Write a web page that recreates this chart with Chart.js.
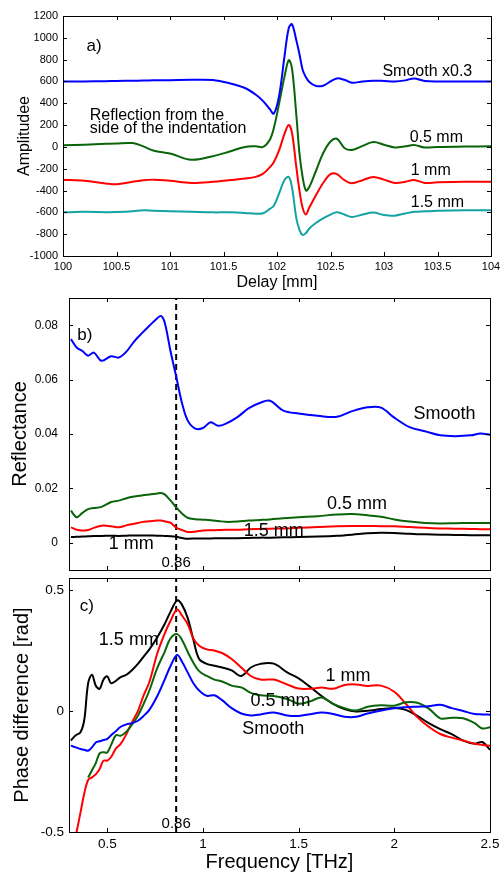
<!DOCTYPE html>
<html>
<head>
<meta charset="utf-8">
<script src="https://cdn.jsdelivr.net/npm/chart.js@4.4.1/dist/chart.umd.min.js"></script>
<style>
  body { margin: 0; background: #fff; }
  #wrap { position: relative; width: 500px; height: 876px; }
  canvas { position: absolute; left: 0; }
</style>
</head>
<body>
<div id="wrap">
  <canvas id="chartA" width="500" height="292" style="top:0"></canvas>
  <canvas id="chartB" width="500" height="280" style="top:292px"></canvas>
  <canvas id="chartC" width="500" height="304" style="top:572px"></canvas>
</div>
<script>
// a) time-domain pulses
const delay = [100, 100.2, 100.4, 100.5, 100.65, 100.75, 100.85, 101, 101.2, 101.4, 101.55, 101.7, 101.8, 101.87, 101.93, 101.97,
  102.02, 102.07, 102.11, 102.14, 102.18, 102.21, 102.24, 102.27, 102.3, 102.36, 102.43, 102.5, 102.56, 102.63, 102.7,
  102.8, 102.9, 103.0, 103.1, 103.2, 103.28, 103.38, 103.5, 103.75, 104];
const ampSmooth = [600, 600, 603, 605, 607, 608, 610, 612, 615, 613, 585, 540, 480, 420, 350, 305,
  470, 830, 1090, 1125, 980, 850, 705, 640, 598, 560, 560, 600, 628, 615, 588,
  600, 607, 605, 600, 610, 628, 605, 600, 600, 600];
const amp05 = [15, 20, 28, 32, 35, 5, -35, -60, -118, -85, -45, 0, 5, 0, 60, 170,
  400, 644, 795, 720, 300, -60, -280, -400, -370, -230, -60, 50, 75, -10, -28,
  10, 45, 20, -5, 5, 18, -5, 0, 3, 5];
const amp10 = [-300, -310, -335, -343, -320, -305, -300, -310, -330, -320, -305, -290, -275, -245, -190, -140,
  -30, 120, 200, 130, -180, -400, -560, -620, -560, -450, -333, -250, -250, -305, -333,
  -305, -275, -300, -330, -320, -303, -330, -325, -320, -320];
const amp15 = [-600, -595, -598, -597, -590, -580, -585, -590, -595, -600, -600, -605, -612, -608, -570, -540,
  -425, -303, -275, -370, -650, -760, -807, -790, -750, -700, -655, -620, -600, -620, -642,
  -620, -602, -625, -630, -610, -595, -590, -585, -580, -580];
const delayTicks = [100, 100.5, 101, 101.5, 102, 102.5, 103, 103.5, 104];
const ampTicks = [-1000, -800, -600, -400, -200, 0, 200, 400, 600, 800, 1000, 1200];

// b) reflectance
const freqB = [0.31, 0.34, 0.37, 0.4, 0.43, 0.47, 0.52, 0.56, 0.6, 0.64, 0.68, 0.72, 0.76, 0.78, 0.8, 0.83, 0.86, 0.89,
  0.92, 0.96, 1.0, 1.04, 1.08, 1.12, 1.18, 1.24, 1.3, 1.35, 1.42, 1.5, 1.6, 1.7, 1.78, 1.86, 1.93, 2.0, 2.08,
  2.16, 2.24, 2.32, 2.4, 2.45, 2.5];
const reflSmooth = [0.0749, 0.0718, 0.0705, 0.0688, 0.0699, 0.0669, 0.0686, 0.0681, 0.0703, 0.0740, 0.0770, 0.0798,
  0.0825, 0.0834, 0.0810, 0.0706, 0.0612, 0.0515, 0.0450, 0.0420, 0.0422, 0.0443, 0.0430, 0.0438, 0.0462,
  0.0495, 0.0515, 0.0522, 0.0486, 0.0475, 0.0467, 0.0463, 0.0484, 0.0498, 0.0497, 0.0460, 0.0425, 0.0410,
  0.0395, 0.0392, 0.0395, 0.0402, 0.0397];
const refl05 = [0.0118, 0.0094, 0.0110, 0.0124, 0.0128, 0.0132, 0.0150, 0.0155, 0.0164, 0.0170, 0.0174, 0.0178,
  0.0181, 0.0183, 0.0178, 0.0156, 0.0130, 0.0108, 0.0092, 0.0087, 0.0085, 0.0083, 0.0080, 0.0077, 0.0078,
  0.0082, 0.0084, 0.0086, 0.0090, 0.0094, 0.0098, 0.0104, 0.0106, 0.0101, 0.0096, 0.0086, 0.0078, 0.0073,
  0.0071, 0.0072, 0.0073, 0.0073, 0.0073];
const refl10 = [0.0057, 0.0048, 0.0045, 0.0047, 0.0055, 0.0063, 0.0061, 0.0057, 0.0064, 0.0070, 0.0076, 0.0079,
  0.0082, 0.0082, 0.0079, 0.0074, 0.0056, 0.0047, 0.0040, 0.0041, 0.0045, 0.0046, 0.0047, 0.0048, 0.0048,
  0.0050, 0.0051, 0.0052, 0.0053, 0.0055, 0.0058, 0.0061, 0.0062, 0.0062, 0.0061, 0.0061, 0.0058, 0.0055,
  0.0053, 0.0052, 0.0051, 0.0050, 0.0050];
const refl15 = [0.0021, 0.0022, 0.0023, 0.0024, 0.0025, 0.0025, 0.0026, 0.0025, 0.0026, 0.0027, 0.0027, 0.0027,
  0.0026, 0.0026, 0.0025, 0.0024, 0.0022, 0.0018, 0.0015, 0.0016, 0.0016, 0.0016, 0.0017, 0.0017, 0.0017,
  0.0018, 0.0019, 0.0019, 0.0020, 0.0021, 0.0023, 0.0026, 0.0030, 0.0035, 0.0037, 0.0036, 0.0033, 0.0031,
  0.0030, 0.0029, 0.0028, 0.0028, 0.0028];
const reflTicks = [0, 0.02, 0.04, 0.06, 0.08];

// c) phase difference
const freqC = [0.31, 0.335, 0.36, 0.38, 0.4, 0.42, 0.44, 0.46, 0.48, 0.5, 0.52, 0.545, 0.57, 0.6, 0.63, 0.66, 0.69,
  0.72, 0.76, 0.8, 0.83, 0.865, 0.89, 0.92, 0.95, 0.98, 1.02, 1.06, 1.1, 1.15, 1.2, 1.25, 1.3, 1.37, 1.44, 1.5,
  1.56, 1.62, 1.68, 1.74, 1.8, 1.86, 1.93, 2.0, 2.06, 2.12, 2.18, 2.24, 2.3, 2.36, 2.42, 2.46, 2.5];
const phaseSmooth = [-0.143, -0.150, -0.157, -0.160, -0.164, -0.150, -0.130, -0.125, -0.120, -0.115, -0.100, -0.083,
  -0.065, -0.055, -0.050, -0.040, -0.020, 0.005, 0.060, 0.130, 0.185, 0.232, 0.205, 0.160, 0.115, 0.085, 0.063,
  0.065, 0.045, 0.012, -0.010, -0.018, -0.014, -0.006, -0.018, -0.020, -0.013, -0.006, -0.012, -0.024, -0.024,
  -0.010, 0.002, 0.012, 0.016, 0.018, 0.020, 0.026, 0.012, 0.000, -0.012, -0.014, -0.015];
const phase05 = [null, null, null, null, -0.275, -0.245, -0.215, -0.175, -0.170, -0.171, -0.140, -0.100,
  -0.102, -0.085, -0.055, -0.020, 0.030, 0.085, 0.175, 0.245, 0.300, 0.318, 0.295, 0.245, 0.200, 0.165, 0.145,
  0.130, 0.122, 0.105, 0.098, 0.075, 0.065, 0.062, 0.050, 0.030, 0.040, 0.056, 0.030, 0.012, 0.002, 0.018,
  0.024, 0.022, 0.036, 0.034, 0.010, -0.030, -0.028, -0.030, -0.050, -0.072, -0.067];
const phase10 = [-0.63, -0.52, -0.42, -0.34, -0.285, -0.274, -0.262, -0.240, -0.205, -0.205, -0.190, -0.155,
  -0.136, -0.095, -0.045, 0.000, 0.065, 0.120, 0.235, 0.320, 0.372, 0.420, 0.395, 0.360, 0.300, 0.270, 0.255,
  0.250, 0.240, 0.215, 0.180, 0.145, 0.130, 0.130, 0.110, 0.093, 0.092, 0.097, 0.092, 0.108, 0.110, 0.104,
  0.105, 0.080, 0.030, -0.025, -0.065, -0.095, -0.110, -0.122, -0.135, -0.140, -0.143];
const phase15 = [-0.122, -0.100, -0.088, -0.035, 0.115, 0.150, 0.105, 0.092, 0.130, 0.143, 0.115, 0.125, 0.140,
  0.150, 0.170, 0.195, 0.225, 0.255, 0.303, 0.360, 0.410, 0.457, 0.440, 0.385, 0.295, 0.215, 0.195, 0.187,
  0.180, 0.168, 0.145, 0.180, 0.195, 0.196, 0.160, 0.135, 0.100, 0.062, 0.030, 0.008, -0.002, 0.001, 0.008,
  0.013, 0.005, -0.020, -0.050, -0.075, -0.095, -0.122, -0.135, -0.128, -0.160];
const phaseTicks = [-0.5, 0, 0.5];
const freqTicks = [0.5, 1, 1.5, 2, 2.5];
const markFreq = 0.86;

const FONT = "'Liberation Sans', Arial, sans-serif";
Chart.defaults.font.family = FONT;
Chart.defaults.color = '#000';

function series(xs, ys, color) {
  return {
    data: xs.map((x, i) => ({ x: x, y: ys[i] })),
    borderColor: color,
    borderWidth: 2,
    pointRadius: 0,
    tension: 0.35,
    fill: false
  };
}

function dashed(lo, hi) {
  return {
    data: [{ x: markFreq, y: lo }, { x: markFreq, y: hi }],
    borderColor: '#000',
    borderWidth: 2,
    borderDash: [6, 4],
    pointRadius: 0
  };
}

// box + inward ticks like matlab, plus text notes in data coords
const framePlugin = {
  id: 'frame',
  afterDatasetsDraw(chart, args, opts) {
    const { ctx, chartArea: a, scales } = chart;
    ctx.save();
    ctx.strokeStyle = '#000';
    ctx.lineWidth = 1;
    ctx.strokeRect(Math.round(a.left) + 0.5, Math.round(a.top) + 0.5,
      Math.round(a.right - a.left), Math.round(a.bottom - a.top));
    ctx.beginPath();
    scales.x.ticks.forEach(t => {
      const px = Math.round(scales.x.getPixelForValue(t.value)) + 0.5;
      if (px < a.left + 2 || px > a.right - 2) return;
      ctx.moveTo(px, a.bottom); ctx.lineTo(px, a.bottom - 4);
      ctx.moveTo(px, a.top); ctx.lineTo(px, a.top + 4);
    });
    scales.y.ticks.forEach(t => {
      const py = Math.round(scales.y.getPixelForValue(t.value)) + 0.5;
      if (py < a.top + 2 || py > a.bottom - 2) return;
      ctx.moveTo(a.left, py); ctx.lineTo(a.left + 4, py);
      ctx.moveTo(a.right, py); ctx.lineTo(a.right - 4, py);
    });
    ctx.stroke();

    ctx.fillStyle = '#000';
    ctx.textBaseline = 'middle';
    (opts.notes || []).forEach(n => {
      ctx.font = n.size + 'px ' + FONT;
      ctx.textAlign = n.align || 'left';
      ctx.fillText(n.text, scales.x.getPixelForValue(n.x), scales.y.getPixelForValue(n.y));
    });
    ctx.restore();
  }
};

function xAxis(min, max, tickVals, height, showLabels, title, fontSize, titleSize, titlePad) {
  return {
    type: 'linear', min: min, max: max,
    grid: { display: false, drawTicks: false }, border: { display: false },
    afterBuildTicks: s => { s.ticks = tickVals.map(v => ({ value: v })); },
    afterFit: s => { s.height = height; s.paddingLeft = 0; s.paddingRight = 0; },
    ticks: { display: showLabels, padding: 4, maxRotation: 0, autoSkip: false,
      font: { size: fontSize }, callback: v => String(v) },
    title: { display: !!title, text: title, font: { size: titleSize }, padding: { top: 0, bottom: titlePad } }
  };
}

function yAxis(min, max, tickVals, width, labelPad, title, fontSize, titleSize, titlePad) {
  return {
    type: 'linear', min: min, max: max,
    grid: { display: false, drawTicks: false }, border: { display: false },
    afterBuildTicks: s => { s.ticks = tickVals.map(v => ({ value: v })); },
    afterFit: s => { s.width = width; s.paddingTop = 0; s.paddingBottom = 0; },
    ticks: { padding: labelPad, autoSkip: false, font: { size: fontSize }, callback: v => String(v) },
    title: { display: true, text: title, font: { size: titleSize }, padding: { top: titlePad, bottom: 0 } }
  };
}

function baseOptions(pad, scales, notes) {
  return {
    responsive: false,
    animation: false,
    layout: { padding: pad, autoPadding: false },
    plugins: { legend: { display: false }, tooltip: { enabled: false }, frame: { notes: notes } },
    scales: scales
  };
}

new Chart(document.getElementById('chartA'), {
  type: 'line',
  data: {
    datasets: [
      series(delay, ampSmooth, '#0000ff'),
      series(delay, amp05, '#0a640a'),
      series(delay, amp10, '#ff0000'),
      series(delay, amp15, '#14a3a3')
    ]
  },
  options: baseOptions({ left: 0, right: 9, top: 16, bottom: 0 }, {
    x: xAxis(100, 104, delayTicks, 36, true, 'Delay [mm]', 11, 16, 0),
    y: yAxis(-1000, 1200, ampTicks, 63, 5, 'Amplitudee', 11, 16, 15)
  }, [
    { text: 'a)', x: 100.22, y: 920, size: 17 },
    { text: 'Reflection from the', x: 100.25, y: 290, size: 16 },
    { text: 'side of the indentation', x: 100.25, y: 170, size: 16 },
    { text: 'Smooth x0.3', x: 102.985, y: 690, size: 16 },
    { text: '0.5 mm', x: 103.24, y: 88, size: 16 },
    { text: '1 mm', x: 103.25, y: -218, size: 16 },
    { text: '1.5 mm', x: 103.25, y: -508, size: 16 }
  ]),
  plugins: [framePlugin]
});

new Chart(document.getElementById('chartB'), {
  type: 'line',
  data: {
    datasets: [
      series(freqB, reflSmooth, '#0000ff'),
      series(freqB, refl05, '#0a640a'),
      series(freqB, refl10, '#ff0000'),
      series(freqB, refl15, '#000000'),
      dashed(-0.01, 0.09)
    ]
  },
  options: baseOptions({ left: 0, right: 10, top: 6, bottom: 0 }, {
    x: xAxis(0.3, 2.5, freqTicks, 2, false, '', 12, 20, 0),
    y: yAxis(-0.01, 0.09, reflTicks, 69, 11, 'Reflectance', 12, 20, 8)
  }, [
    { text: 'b)', x: 0.343, y: 0.0761, size: 17 },
    { text: 'Smooth', x: 2.1, y: 0.0473, size: 18 },
    { text: '0.5 mm', x: 1.648, y: 0.0143, size: 18 },
    { text: '1.5 mm', x: 1.213, y: 0.0045, size: 18 },
    { text: '1 mm', x: 0.508, y: -0.0004, size: 18 },
    { text: '0.86', x: markFreq, y: -0.0072, size: 15, align: 'center' }
  ]),
  plugins: [framePlugin]
});

new Chart(document.getElementById('chartC'), {
  type: 'line',
  data: {
    datasets: [
      series(freqC, phaseSmooth, '#0000ff'),
      series(freqC, phase05, '#0a640a'),
      series(freqC, phase10, '#ff0000'),
      series(freqC, phase15, '#000000'),
      dashed(-0.5, 0.55)
    ]
  },
  options: baseOptions({ left: 0, right: 10, top: 6, bottom: 0 }, {
    x: xAxis(0.3, 2.5, freqTicks, 44, true, 'Frequency [THz]', 13.5, 20, 2),
    y: yAxis(-0.5, 0.55, phaseTicks, 69, 5, 'Phase difference [rad]', 13.5, 20, 10)
  }, [
    { text: 'c)', x: 0.356, y: 0.434, size: 17 },
    { text: '1.5 mm', x: 0.456, y: 0.294, size: 18 },
    { text: '1 mm', x: 1.64, y: 0.145, size: 18 },
    { text: '0.5 mm', x: 1.248, y: 0.042, size: 18 },
    { text: 'Smooth', x: 1.205, y: -0.074, size: 18 },
    { text: '0.86', x: markFreq, y: -0.466, size: 15, align: 'center' }
  ]),
  plugins: [framePlugin]
});
</script>
</body>
</html>
